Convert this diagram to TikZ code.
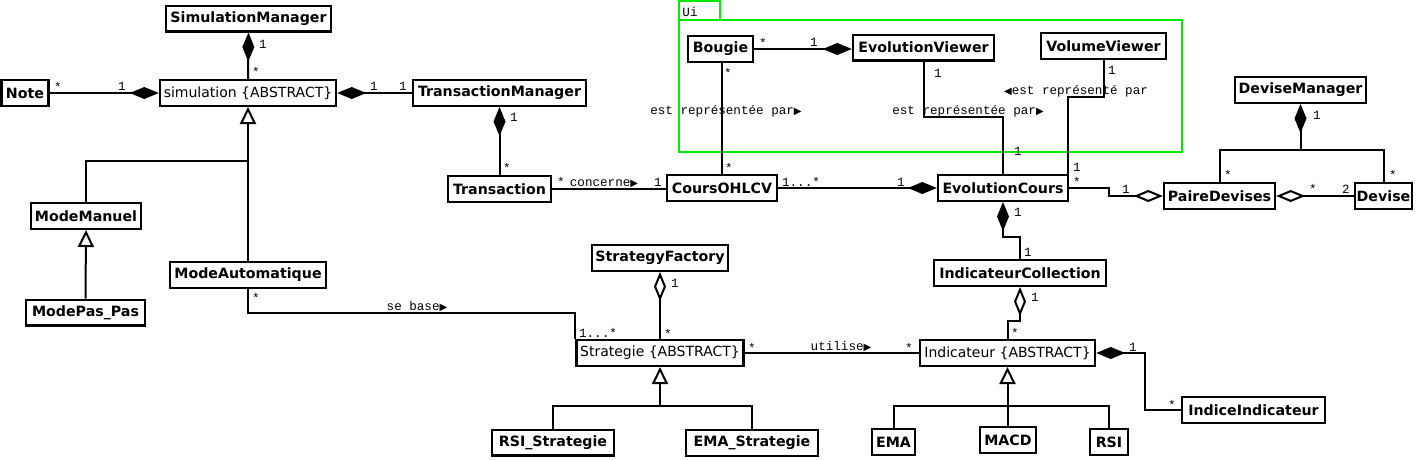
\documentclass[tikz,border=0pt]{standalone}
\usepackage{fontspec}
\setmainfont{DejaVu Sans}
\newfontfamily\monof{Liberation Mono}
\newfontfamily\symf{DejaVu Sans}
\usetikzlibrary{arrows.meta}
\definecolor{uigreen}{RGB}{0,235,0}
\newcommand\rtri{{\symf\fontsize{10}{10}\selectfont ▶}}
\newcommand\ltri{{\symf\fontsize{10}{10}\selectfont ◀}}
\begin{document}
\begin{tikzpicture}[x=1pt,y=-1pt,line width=2pt,
  cls/.style={draw, line width=2.4pt, fill=white, inner sep=0pt, minimum height=25.6pt,
    font=\bfseries\fontsize{14.2}{16}\selectfont},
  abs/.style={cls, font=\fontsize{14}{16}\selectfont},
  lbl/.style={font=\monof\fontsize{12.6}{14}\selectfont, inner sep=0pt, anchor=base},
  compS/.style={{Diamond[length=29pt,width=12pt]}-},
  compE/.style={-{Diamond[length=29pt,width=12pt]}},
  aggS/.style={{Diamond[open,length=29pt,width=12pt]}-},
  aggE/.style={-{Diamond[open,length=29pt,width=12pt]}},
  genS/.style={{Triangle[open,length=17pt,width=16pt]}-},
  pkg/.style={draw=uigreen, line width=2pt}
]
\useasboundingbox (0,0) rectangle (1420,459);
% package Ui
\draw[pkg] (679,1) rectangle (720,20);
\draw[pkg] (679,20) rectangle (1182,152);
\node[lbl] (uilabel) at (690,16) {Ui};

% classes
\node[cls, minimum width=165pt] (sm) at (248.5,18.5) {SimulationManager};
\node[abs, minimum width=176pt] (sim) at (248,93) {simulation \{ABSTRACT\}};
\node[cls, minimum width=47pt] (note) at (25,93) {Note};
\node[cls, minimum width=173pt] (tm) at (499.5,93) {TransactionManager};
\node[cls, minimum width=103pt] (tr) at (499.5,189) {Transaction};
\node[cls, minimum width=110pt] (co) at (722,188) {CoursOHLCV};
\node[cls, minimum width=65pt] (bo) at (720.5,49) {Bougie};
\node[cls, minimum width=141pt] (ev) at (923.5,47.5) {EvolutionViewer};
\node[cls, minimum width=125pt] (vv) at (1103.5,46) {VolumeViewer};
\node[cls, minimum width=130pt] (ec) at (1003,188) {EvolutionCours};
\node[cls, minimum width=111pt] (pd) at (1219.5,196) {PaireDevises};
\node[cls, minimum width=57pt] (dv) at (1383.5,196) {Devise};
\node[cls, minimum width=131pt] (dm) at (1300.5,90) {DeviseManager};
\node[cls, minimum width=110pt] (mm) at (86,216) {ModeManuel};
\node[cls, minimum width=119pt] (mp) at (85.5,312.5) {ModePas\_Pas};
\node[cls, minimum width=156pt] (ma) at (248,275) {ModeAutomatique};
\node[cls, minimum width=136pt] (sf) at (660,258) {StrategyFactory};
\node[abs, minimum width=167pt] (st) at (660,353) {Strategie \{ABSTRACT\}};
\node[cls, minimum width=122pt] (rs) at (553,442.5) {RSI\_Strategie};
\node[cls, minimum width=132pt] (es) at (752,443) {EMA\_Strategie};
\node[cls, minimum width=172pt] (ic) at (1020,273) {IndicateurCollection};
\node[abs, minimum width=175pt] (ind) at (1007.5,353) {Indicateur \{ABSTRACT\}};
\node[cls, minimum width=43pt] (ema) at (893.5,442) {EMA};
\node[cls, minimum width=56pt] (macd) at (1008,440) {MACD};
\node[cls, minimum width=38pt] (rsi) at (1109,442) {RSI};
\node[cls, minimum width=143pt] (ii) at (1253.5,410) {IndiceIndicateur};

% junction coordinates
\coordinate (simj) at (248,161);
\coordinate (maj) at (248,313);
\coordinate (evj) at (1003,117);
\coordinate (vvj) at (1068,97);
\coordinate (pdj) at (1109,188);
\coordinate (dmj) at (1300.5,150);
\coordinate (ecj) at (1003,237);
\coordinate (icj) at (1020,321);
\coordinate (iij) at (1145,353);
\coordinate (gij) at (1007.5,406);
\coordinate (gsj) at (660,406);

% connectors
\draw[compS] (sm.south) -- (sim.north);
\draw[compE] (note.east) -- (sim.west);
\draw[compS] (sim.east) -- (tm.west);
\draw[compS] (tm.south) -- (tr.north);
\draw[genS] (sim.south) -- (ma.north);
\draw (mm.north) |- (simj);
\draw[genS] (mm.south) -- (mp.north);
\draw (ma.south) -- (maj) -| (st.north west);
\draw[aggS] (sf.south) -- (st.north);
\draw[genS] (st.south) -- (gsj);
\draw (rs.north) |- (gsj) -| (es.north);
\draw (st.east) -- (ind.west);
\draw[aggS] (ic.south) -- (icj) -| (ind.north);
\draw[genS] (ind.south) -- (gij);
\draw (ema.north) |- (gij) -| (rsi.north);
\draw (macd.north) -- (macd.north |- gij);
\draw[compS] (ind.east) -- (iij) |- (ii.west);
\draw[compS] (ec.south) -- (ecj) -| (ic.north);
\draw (tr.east) -- (tr.east -| co.west);
\draw[compE] (co.east) -- (ec.west);
\draw[compE] (bo.east) -- (bo.east -| ev.west);
\draw (co.north) -- (co.north |- bo.south);
\draw (ev.south) |- (evj) -- (ec.north);
\draw (vv.south) |- (vvj) -- (vvj |- ec.north);
\draw[aggE] (ec.east) -- (pdj) |- (pd.west);
\draw[compS] (dm.south) -- (dmj);
\draw (pd.north) |- (dmj) -| (dv.north);
\draw[aggS] (pd.east) -- (dv.west);

% labels
\node[lbl] (l1) at (263,48) {1};
\node[lbl] (l2) at (256,76) {*};
\node[lbl] (l3) at (58,91) {*};
\node[lbl] (l4) at (122,90) {1};
\node[lbl] (l5) at (374,90) {1};
\node[lbl] (l6) at (403,90) {1};
\node[lbl] (l7) at (514,121) {1};
\node[lbl] (l8) at (507,172) {*};
\node[lbl] (l9) at (561,186) {*};
\node[lbl] (l10) at (604,186) {concerne\rtri};
\node[lbl] (l11) at (658,186) {1};
\node[lbl] (l12) at (801,186) {1...*};
\node[lbl] (l13) at (901,186) {1};
\node[lbl] (l14) at (1077,186) {*};
\node[lbl] (l15) at (1077,171) {1};
\node[lbl] (l16) at (1018,155) {1};
\node[lbl] (l17) at (938,77) {1};
\node[lbl] (l18) at (1112,74) {1};
\node[lbl] (l19) at (1076,94) {\ltri est représenté par};
\node[lbl] (l20) at (968,114) {est représentée par\rtri};
\node[lbl] (l21) at (726,114) {est représentée par\rtri};
\node[lbl] (l22) at (728,77) {*};
\node[lbl] (l23) at (729,172) {*};
\node[lbl] (l24) at (763,47) {*};
\node[lbl] (l25) at (814,46) {1};
\node[lbl] (l26) at (1018,216) {1};
\node[lbl] (l27) at (1028,256) {1};
\node[lbl] (l28) at (1035,301) {1};
\node[lbl] (l29) at (1015,337) {*};
\node[lbl] (l30) at (1133,351) {1};
\node[lbl] (l31) at (1172,409) {*};
\node[lbl] (l32) at (841,350) {utilise\rtri};
\node[lbl] (l33) at (909,352) {*};
\node[lbl] (l34) at (752,352) {*};
\node[lbl] (l35) at (675,287) {1};
\node[lbl] (l36) at (668,338) {*};
\node[lbl] (l37) at (598,337) {1...*};
\node[lbl] (l38) at (417,310) {se base\rtri};
\node[lbl] (l39) at (256,302) {*};
\node[lbl] (l40) at (1317,119) {1};
\node[lbl] (l41) at (1228,179) {*};
\node[lbl] (l42) at (1393,179) {*};
\node[lbl] (l43) at (1313,193) {*};
\node[lbl] (l44) at (1346,193) {2};
\node[lbl] (l45) at (1126,193) {1};
\end{tikzpicture}
\end{document}
